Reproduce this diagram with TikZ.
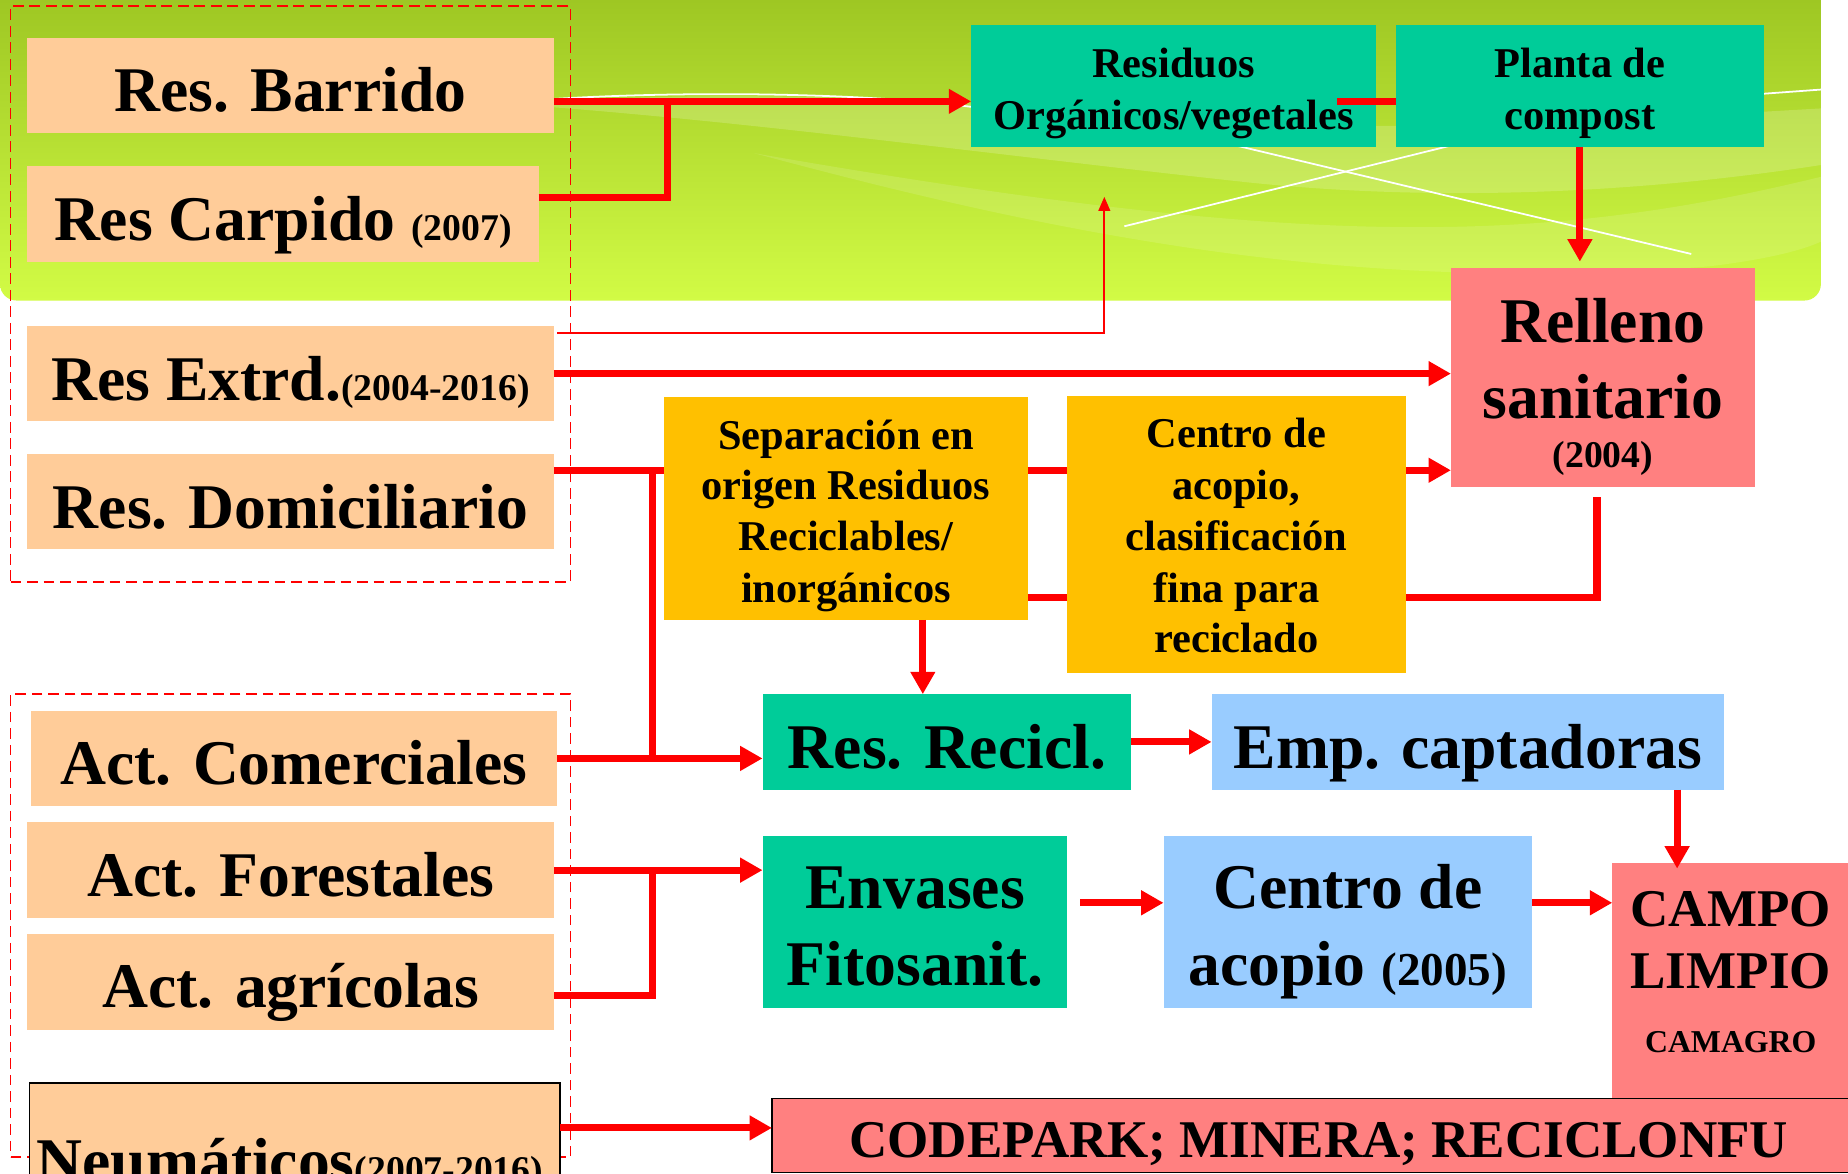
\documentclass[tikz,border=0pt]{standalone}
\usepackage{fontspec}
\setmainfont{Liberation Serif}
\usetikzlibrary{arrows.meta}
\definecolor{peach}{HTML}{FFCC99}
\definecolor{cteal}{HTML}{00CC99}
\definecolor{corange}{HTML}{FFC000}
\definecolor{cpink}{HTML}{FF8080}
\definecolor{cblue}{HTML}{99CCFF}
\definecolor{gtop}{HTML}{98C11F}
\definecolor{gbot}{HTML}{D2FB45}
\definecolor{cred}{HTML}{FF0000}
\tikzset{
  box/.style={inner sep=0pt, outer sep=0pt, draw=none},
  dashbox/.style={inner sep=0pt, outer sep=0pt, draw=cred, line width=1.5pt, dash pattern=on 9pt off 5pt},
  ln/.style={line width=6pt, cred},
  arr/.style={line width=6pt, cred, -{Triangle[length=19pt,width=20pt]}},
  thinarr/.style={line width=1.5pt, cred, -{Triangle[length=12pt,width=10pt]}},
  wl/.style={white, line width=1.5pt},
  t54/.style={inner sep=0pt, anchor=base, font={\bfseries\fontsize{54pt}{60pt}\selectfont}},
  t36/.style={inner sep=0pt, anchor=base, font={\bfseries\fontsize{36pt}{42pt}\selectfont}},
  t45/.style={inner sep=0pt, anchor=base, font={\bfseries\fontsize{45pt}{50pt}\selectfont}},
  t32/.style={inner sep=0pt, anchor=base, font={\bfseries\fontsize{32pt}{36pt}\selectfont}},
  t27/.style={inner sep=0pt, anchor=base, font={\bfseries\fontsize{27pt}{30pt}\selectfont}},
}
\newcommand{\smallyr}[1]{{\fontsize{32pt}{36pt}\selectfont #1}}
\begin{document}
\begin{tikzpicture}[x=1pt,y=-1pt]
\useasboundingbox (0,0) rectangle (1568,996);
\clip (0,0) rectangle (1568,996);
\fill[white] (0,0) rectangle (1568,996);
% green header background
\shade[top color=gtop, bottom color=gbot, rounded corners=14pt] (0,-30) rectangle (1545,255);
\fill[white, opacity=0.18] (469,86) .. controls (640,76) and (800,84) .. (1000,100) .. controls (1200,116) and (1400,100) .. (1545,92) -- (1545,140) .. controls (1350,170) and (1180,168) .. (1052,154) .. controls (850,132) and (650,105) .. (469,91) -- cycle;
\fill[white, opacity=0.12] (640,130) .. controls (900,200) and (1150,250) .. (1450,226) .. controls (1500,220) and (1530,212) .. (1545,205) -- (1545,150) .. controls (1300,210) and (1100,210) .. (640,130) -- cycle;
\draw[wl] (469,84) .. controls (600,76) and (760,80) .. (840,93);
\draw[wl] (954,192) -- (1229,124);
\draw[wl] (1051,124) -- (1435,215.5);
\draw[wl] (1490,80) -- (1545,76);
% dashed groups
\node[dashbox, minimum width=475pt, minimum height=489pt] (grp1) at (246.5,249.5) {};
\node[dashbox, minimum width=475pt, minimum height=393pt] (grp2) at (246.5,785.5) {};
% boxes
\node[box, fill=peach, minimum width=447pt, minimum height=81pt] (barrido) at (246.5,72.5) {};
\node[box, fill=peach, minimum width=434pt, minimum height=81pt] (carpido) at (240,181.5) {};
\node[box, fill=peach, minimum width=447pt, minimum height=80pt] (extrd) at (246.5,317) {};
\node[box, fill=peach, minimum width=447pt, minimum height=81pt] (domic) at (246.5,425.5) {};
\node[box, fill=peach, minimum width=447pt, minimum height=81pt] (comerc) at (249.5,643.5) {};
\node[box, fill=peach, minimum width=447pt, minimum height=81pt] (forest) at (246.7,738.3) {};
\node[box, fill=peach, minimum width=447pt, minimum height=81pt] (agric) at (246.7,833.3) {};
\node[box, fill=peach, draw=black, line width=1.5pt, minimum width=450pt, minimum height=92pt] (neum) at (250,965) {};
\node[box, fill=cteal, minimum width=343.6pt, minimum height=103.3pt] (resorg) at (995.8,72.9) {};
\node[box, fill=cteal, minimum width=312pt, minimum height=103.3pt] (planta) at (1340.5,72.9) {};
\node[box, fill=cpink, minimum width=257.8pt, minimum height=185.3pt] (relleno) at (1360,320.3) {};
\node[box, fill=corange, minimum width=308.5pt, minimum height=189pt] (sep) at (717.75,431.5) {};
\node[box, fill=corange, minimum width=288pt, minimum height=235pt] (centro1) at (1049,453.25) {};
\node[box, fill=cteal, minimum width=313pt, minimum height=81pt] (recicl) at (803.5,629.5) {};
\node[box, fill=cblue, minimum width=434.8pt, minimum height=81pt] (emp) at (1245.4,629.5) {};
\node[box, fill=cteal, minimum width=258.4pt, minimum height=146.4pt] (envases) at (776.2,782.2) {};
\node[box, fill=cblue, minimum width=312.7pt, minimum height=146.4pt] (centro2) at (1143.6,782.2) {};
\node[box, fill=cpink, minimum width=212pt, minimum height=200pt] (campo) at (1474,832) {};
\node[box, fill=cpink, draw=black, line width=1.2pt, minimum width=945pt, minimum height=63pt] (codepark) at (1127.5,963.5) {};
% connectors
\coordinate (j1) at (566,86);
\coordinate (j2) at (553.5,399);
\coordinate (tt) at (937,167);
\coordinate (rr) at (1355,422);
\draw[arr] ([yshift=-13.5pt]barrido.east) -- ([yshift=-13.5pt]barrido.east -| resorg.west);
\draw[ln] ([yshift=13.8pt]carpido.east) -| (j1);
\draw[ln] ([xshift=-33pt,yshift=-13.1pt]resorg.east) -- ([yshift=-13.1pt]planta.west);
\draw[arr] (planta.south) -- ([yshift=5.7pt]planta.south |- relleno.north);
\draw[thinarr] ([xshift=3pt,yshift=-5.5pt]extrd.north east) -| (tt);
\draw[arr] (extrd.east) -- (extrd.east -| relleno.west);
\draw[ln] ([yshift=26.5pt]domic.east) -- ([yshift=26.5pt]domic.east -| sep.west);
\draw[ln] (j2) -- (j2 |- comerc.east);
\draw[ln] ([yshift=32.5pt]sep.east) -- ([yshift=32.5pt]sep.east -| centro1.west);
\draw[arr] ([yshift=54.25pt]centro1.east) -- ([yshift=54.25pt]centro1.east -| relleno.west);
\draw[ln] ([yshift=-75.5pt]sep.east) -- ([yshift=-75.5pt]sep.east -| centro1.west);
\draw[ln] ([yshift=-53.75pt]centro1.east) -| (rr);
\draw[arr] ([xshift=65.25pt]sep.south) -- ([xshift=65.25pt]sep.south |- recicl.north);
\draw[arr] (comerc.east) -- (comerc.east -| recicl.west);
\draw[arr] (recicl.east) -- (emp.west);
\draw[arr] (forest.east) -- (forest.east -| envases.west);
\draw[ln] ([yshift=-11.7pt]agric.east) -| (j2 |- forest.east);
\draw[arr] ([xshift=11pt,yshift=16.2pt]envases.east) -- ([yshift=16.2pt]envases.east -| centro2.west);
\draw[arr] ([yshift=16.2pt]centro2.east) -- ([yshift=16.2pt]centro2.east -| campo.west);
\draw[arr] ([xshift=177.6pt]emp.south) -- ([xshift=177.6pt,yshift=-5pt]emp.south |- campo.north);
\draw[arr] ([yshift=8pt]neum.east) -- ([yshift=8pt]neum.east -| codepark.west);
% texts
\node[t54] (tbarrido) at (246.5,95) {Res. Barrido};
\node[t54] (tcarpido) at (240,204) {Res Carpido \smallyr{(2007)}};
\node[t54] (textrd) at (246.5,339.5) {Res Extrd.\smallyr{(2004-2016)}};
\node[t54] (tdomic) at (246.5,448) {Res. Domiciliario};
\node[t54] (tcomerc) at (249.5,666) {Act. Comerciales};
\node[t54] (tforest) at (246.7,760.5) {Act. Forestales};
\node[t54] (tagric) at (246.7,855) {Act. agrícolas};
\node[t54] (tneum) at (246,1003) {Neumáticos\smallyr{(2007-2016)}};
\node[t36] (tres1) at (995.8,66) {Residuos};
\node[t36] (tres2) at (995.8,110) {Orgánicos/vegetales};
\node[t36] (tpla1) at (1340.5,66) {Planta de};
\node[t36] (tpla2) at (1340.5,110) {compost};
\node[t54] (trel1) at (1360,291) {Relleno};
\node[t54] (trel2) at (1360,355) {sanitario};
\node[t32] (trel3) at (1360,397) {(2004)};
\node[t36] (tsep1) at (717.75,381) {Separación en};
\node[t36] (tsep2) at (717.75,424) {origen Residuos};
\node[t36] (tsep3) at (717.75,467.5) {Reciclables/};
\node[t36] (tsep4) at (717.75,511) {inorgánicos};
\node[t36] (tcen1) at (1049,380) {Centro de};
\node[t36] (tcen2) at (1049,424) {acopio,};
\node[t36] (tcen3) at (1049,467) {clasificación};
\node[t36] (tcen4) at (1049,511) {fina para};
\node[t36] (tcen5) at (1049,554) {reciclado};
\node[t54] (trecicl) at (803.5,652) {Res. Recicl.};
\node[t54] (temp) at (1245.4,652) {Emp. captadoras};
\node[t54] (tenv1) at (776.5,771) {Envases};
\node[t54] (tenv2) at (776.5,836) {Fitosanit.};
\node[t54] (tca1) at (1143.6,771) {Centro de};
\node[t54] (tca2) at (1143.6,836) {acopio {\fontsize{40pt}{44pt}\selectfont (2005)}};
\node[t45] (tcampo1) at (1468.5,786) {CAMPO};
\node[t45] (tcampo2) at (1468.5,839) {LIMPIO};
\node[t27] (tcampo3) at (1468.5,893) {CAMAGRO};
\node[t45] (tcode) at (1119,982) {CODEPARK; MINERA; RECICLONFU};
\end{tikzpicture}
\end{document}
